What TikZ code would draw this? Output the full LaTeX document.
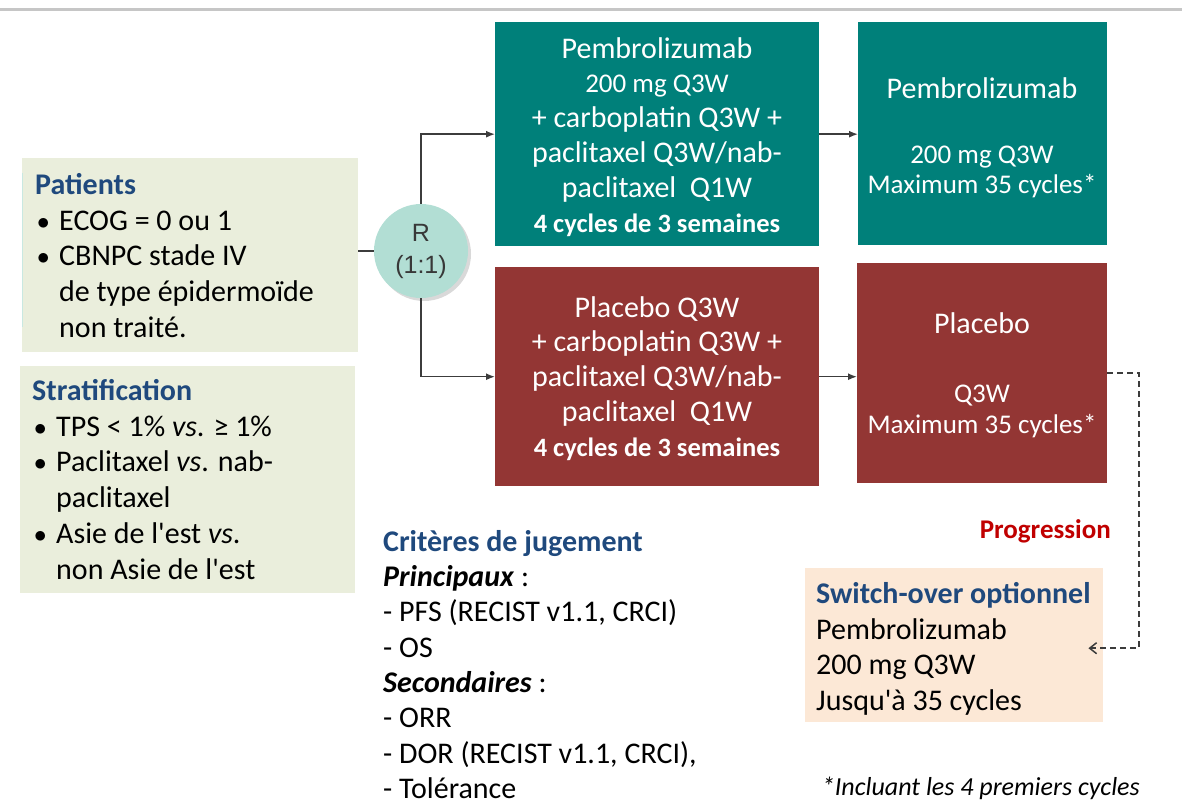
\documentclass[tikz,border=0pt]{standalone}
\usepackage{fontspec}
\setmainfont{Carlito}
\newfontfamily\arialfont{Liberation Sans}
\usetikzlibrary{arrows.meta,shadows}

\definecolor{tealbox}{HTML}{00807A}
\definecolor{redbox}{HTML}{933634}
\definecolor{sagebox}{HTML}{EAEEDC}
\definecolor{peachbox}{HTML}{FCE8D6}
\definecolor{randfill}{HTML}{B2DED4}
\definecolor{titleblue}{HTML}{1F497D}
\definecolor{progred}{HTML}{C00000}
\definecolor{linegray}{HTML}{3C3C3C}

\tikzset{
  armbox/.style={rectangle, draw=none, inner sep=0pt, anchor=north west},
  tealarm/.style={armbox, fill=tealbox},
  redarm/.style={armbox, fill=redbox},
  infobox/.style={rectangle, draw=none, fill=sagebox, inner sep=0pt, anchor=north west},
  armtext/.style={text=white, align=center, inner sep=0pt, anchor=north,
    font=\fontsize{30pt}{34.8pt}\selectfont},
  listtext/.style={align=left, inner sep=0pt, anchor=north west,
    font=\fontsize{30pt}{35.8pt}\selectfont},
  flow/.style={draw=linegray, line width=1.5pt, -{Latex[length=9pt,width=7pt]}},
  plainline/.style={draw=linegray, line width=1.5pt},
  switchflow/.style={draw=linegray, line width=1.5pt, dash pattern=on 6pt off 4pt,
    -{Straight Barb[length=7pt,width=11pt]}}
}
\newcommand{\bul}{\makebox[24pt][l]{\hspace{2pt}\raisebox{1pt}{\fontsize{24pt}{24pt}\selectfont$\bullet$}}}
\newcommand{\hang}{\hspace*{24pt}}
\newcommand{\midline}[1]{{\fontsize{27pt}{34.8pt}\selectfont #1}}
\newcommand{\boldline}[1]{{\fontsize{26.5pt}{34.8pt}\selectfont\bfseries #1}}
\newcommand{\apos}{\textquotesingle}

\begin{document}
\begin{tikzpicture}[x=1pt,y=-1pt]
  \useasboundingbox (0,0) rectangle (1182,805);

  % rule across the top
  \draw[gray!45, line width=3pt] (0,10) -- (1182,10);

  % treatment arms
  \node[tealarm, minimum width=324pt, minimum height=224pt] (t1) at (495,22) {};
  \node[tealarm, minimum width=249pt, minimum height=223pt] (t2) at (858,22) {};
  \node[redarm, minimum width=324pt, minimum height=219pt] (r1) at (495,267) {};
  \node[redarm, minimum width=250pt, minimum height=220pt] (r2) at (857,263) {};

  \node[armtext] (t1txt) at (657,37) {Pembrolizumab\\ \midline{200 mg Q3W}\\
    + carboplatin Q3W +\\ paclitaxel Q3W/nab-\\ paclitaxel\ \ Q1W\\
    \boldline{4 cycles de 3 semaines}};
  \node[armtext, font=\fontsize{30pt}{30pt}\selectfont] (t2txt) at (982,77)
    {Pembrolizumab\\[35pt] \midline{200 mg Q3W}\\ \midline{Maximum 35 cycles*}};
  \node[armtext] (r1txt) at (657,296) {Placebo Q3W\\ + carboplatin Q3W +\\
    paclitaxel Q3W/nab-\\ paclitaxel\ \ Q1W\\ \boldline{4 cycles de 3 semaines}};
  \node[armtext, font=\fontsize{30pt}{31pt}\selectfont] (r2txt) at (982,312)
    {Placebo\\[38pt] \midline{Q3W}\\ \midline{Maximum 35 cycles*}};

  % population and stratification
  \node[infobox, minimum width=336pt, minimum height=194pt] (pat) at (22,158) {};
  \draw[randfill!70, line width=1pt] (22,173) -- (22,327);
  \node[listtext] (pattxt) at (35,173) {\textcolor{titleblue}{\textbf{Patients}}\\
    \bul ECOG = 0 ou 1\\ \bul CBNPC stade IV\\ \hang de type épidermoïde\\ \hang non traité.};
  \node[infobox, minimum width=335pt, minimum height=227pt] (strat) at (20,366) {};
  \node[listtext] (strattxt) at (32,379) {\textcolor{titleblue}{\textbf{Stratification}}\\
    \bul TPS < 1\% \textit{vs}. ≥ 1\%\\ \bul Paclitaxel \textit{vs}. nab-\\ \hang paclitaxel\\
    \bul Asie de l\apos est \textit{vs}.\\ \hang non Asie de l\apos est};

  % randomisation
  \node[circle, fill=randfill, minimum size=94pt, inner sep=0pt,
    drop shadow={opacity=0.3, shadow xshift=3pt, shadow yshift=-3pt},
    text=black!78, align=center, font=\arialfont\fontsize{25pt}{32pt}\selectfont] (rnd) at (421,251) {R\\(1:1)};

  \draw[plainline] (pat.east |- rnd.west) -- (rnd.west);
  \draw[flow] (rnd.north) |- (t1.west);
  \draw[flow] (rnd.south) |- (r1.west);
  \draw[flow] (t1.east) -- (t1.east -| t2.west);
  \draw[flow] (r1.east) -- (r1.east -| r2.west);

  % optional switch-over
  \node[rectangle, fill=peachbox, inner sep=0pt, anchor=north west,
    minimum width=298pt, minimum height=154pt] (sw) at (805,568) {};
  \node[listtext] (swtxt) at (816,582) {\textcolor{titleblue}{\textbf{Switch-over optionnel}}\\
    Pembrolizumab\\ 200 mg Q3W\\ Jusqu\apos à 35 cycles};
  \node[anchor=east, inner sep=0pt, text=progred, font=\fontsize{27pt}{30pt}\selectfont\bfseries]
    (prog) at (1111,531) {Progression};
  \coordinate (dashbend) at (1139,373);
  \draw[switchflow] (r2.east |- dashbend) -- (dashbend) |- ([xshift=-15pt,yshift=-3pt]sw.east);

  % endpoints
  \node[listtext, font=\fontsize{30pt}{35.3pt}\selectfont] (crit) at (383,530)
    {\textcolor{titleblue}{\textbf{Critères de jugement}}\\
    \textbf{\textit{Principaux}} :\\ - PFS (RECIST v1.1, CRCI)\\ - OS\\
    \textbf{\textit{Secondaires}} :\\ - ORR\\ - DOR (RECIST v1.1, CRCI),\\ - Tolérance};

  % footnote
  \node[anchor=east, inner sep=0pt, font=\fontsize{26pt}{30pt}\selectfont\itshape]
    (foot) at (1140,788) {*Incluant les 4 premiers cycles};
\end{tikzpicture}
\end{document}
